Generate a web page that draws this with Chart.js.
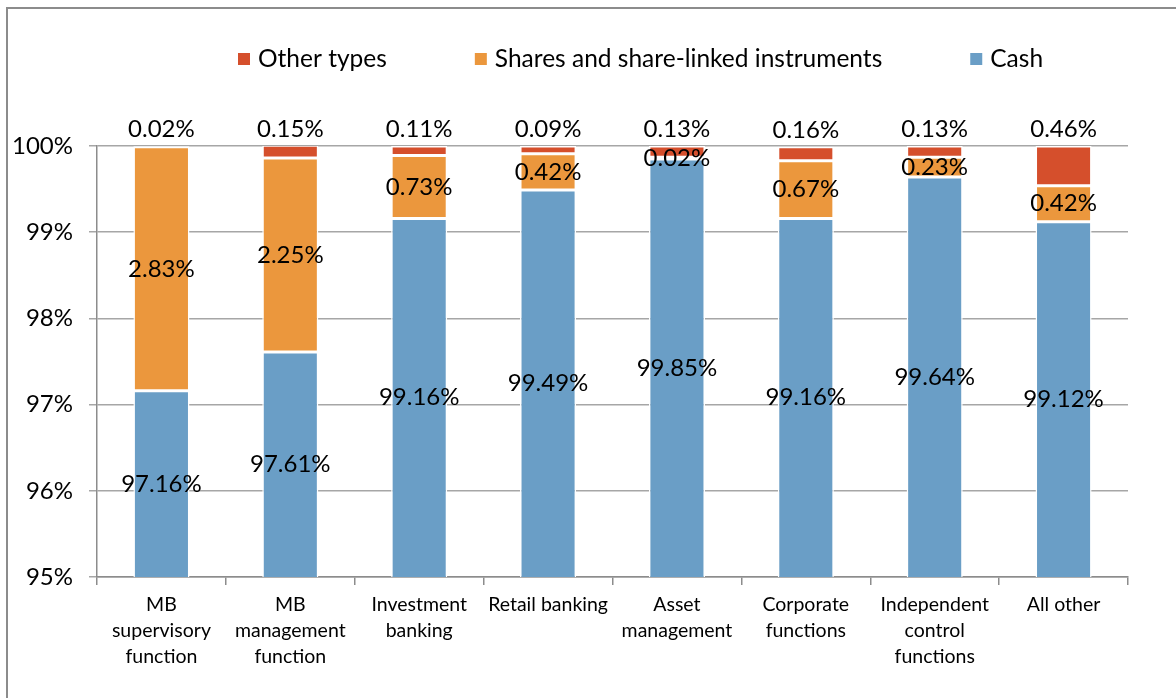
<!DOCTYPE html>
<html>
<head>
<meta charset="utf-8">
<script src="https://cdn.jsdelivr.net/npm/chart.js@4.4.0/dist/chart.umd.min.js"></script>
<style>
html, body { margin: 0; padding: 0; background: #fff; overflow: hidden; }
#wrap { position: relative; width: 1176px; height: 698px; }
#frame { position: absolute; left: 6px; top: 7px; width: 1300px; height: 800px;
         border-left: 2px solid #8c8c8c; border-top: 2px solid #8c8c8c; }
canvas { position: absolute; left: 0; top: 0; }
</style>
</head>
<body>
<div id="wrap">
  <div id="frame"></div>
  <canvas id="barChart" width="1176" height="698"></canvas>
</div>
<script>
var categories = [
    ["MB", "supervisory", "function"],
    ["MB", "management", "function"],
    ["Investment", "banking"],
    "Retail banking",
    ["Asset", "management"],
    ["Corporate", "functions"],
    ["Independent", "control", "functions"],
    "All other"
];
var cash   = [97.16, 97.61, 99.16, 99.49, 99.85, 99.16, 99.64, 99.12];
var shares = [2.83, 2.25, 0.73, 0.42, 0.02, 0.67, 0.23, 0.42];
var other  = [0.02, 0.15, 0.11, 0.09, 0.13, 0.16, 0.13, 0.46];
var yTicks = [95, 96, 97, 98, 99, 100];

var FONT = "Lato, 'Liberation Sans', sans-serif";

// legend drawn by hand so it can sit where the original one is
var legendPlugin = {
    id: 'topLegend',
    afterDraw: function(chart) {
        var c = chart.ctx;
        var order = [2, 1, 0];
        var x = 238, y = 59;
        c.save();
        c.font = '24.5px ' + FONT;
        c.textBaseline = 'middle';
        order.forEach(function(i) {
            var ds = chart.data.datasets[i];
            c.fillStyle = ds.backgroundColor;
            c.fillRect(x, y - 6, 12, 12);
            c.fillStyle = '#000';
            c.fillText(ds.label, x + 20, y);
            x += 20 + c.measureText(ds.label).width + 88;
        });
        c.restore();
    }
};

var labelPlugin = {
    id: 'valueLabels',
    afterDatasetsDraw: function(chart) {
        var c = chart.ctx;
        var area = chart.chartArea;
        c.save();
        c.font = '24px ' + FONT;
        c.fillStyle = '#000';
        c.textAlign = 'center';
        c.textBaseline = 'middle';
        chart.data.datasets.forEach(function(ds, i) {
            chart.getDatasetMeta(i).data.forEach(function(bar, j) {
                var top = Math.max(bar.y, area.top);
                var base = Math.min(bar.base, area.bottom);
                var ly = (i === 2) ? top - 17 : (top + base) / 2;
                c.fillText(ds.data[j].toFixed(2) + '%', bar.x, ly);
            });
        });
        c.restore();
    }
};

var ctx_bar = document.getElementById("barChart");
var barChart = new Chart(ctx_bar, {
    type: 'bar',
    data: {
        labels: categories,
        datasets: [
            { label: 'Cash', data: cash, backgroundColor: '#6A9EC6' },
            { label: 'Shares and share-linked instruments', data: shares, backgroundColor: '#EB973D' },
            { label: 'Other types', data: other, backgroundColor: '#D54F2C' }
        ]
    },
    options: {
        responsive: false,
        animation: false,
        layout: { padding: { left: 8, right: 48, top: 146, bottom: 0 } },
        datasets: {
            bar: {
                borderColor: '#ffffff',
                borderWidth: 1.5,
                borderSkipped: false,
                categoryPercentage: 1,
                barPercentage: 0.435
            }
        },
        plugins: {
            legend: { display: false },
            tooltip: { enabled: false }
        },
        scales: {
            x: {
                stacked: true,
                grid: {
                    offset: true,
                    drawOnChartArea: false,
                    drawTicks: true,
                    tickLength: 8,
                    color: '#8c8c8c',
                    lineWidth: 1.5
                },
                border: { color: '#8c8c8c', width: 1.5 },
                ticks: {
                    color: '#000',
                    padding: 7,
                    maxRotation: 0,
                    autoSkip: false,
                    font: { family: FONT, size: 19.5, lineHeight: 1.33 }
                },
                afterFit: function(scale) { scale.height = 121; }
            },
            y: {
                stacked: true,
                min: 95,
                max: 100,
                afterBuildTicks: function(scale) {
                    scale.ticks = yTicks.map(function(v) { return { value: v }; });
                },
                grid: { color: '#a6a6a6', lineWidth: 1.5, tickLength: 8 },
                border: { color: '#8c8c8c', width: 1.5 },
                ticks: {
                    color: '#000',
                    padding: 16,
                    font: { family: FONT, size: 24 },
                    callback: function(v) { return v + '%'; }
                },
                afterFit: function(scale) { scale.width = 89; }
            }
        }
    },
    plugins: [legendPlugin, labelPlugin]
});
</script>
</body>
</html>
